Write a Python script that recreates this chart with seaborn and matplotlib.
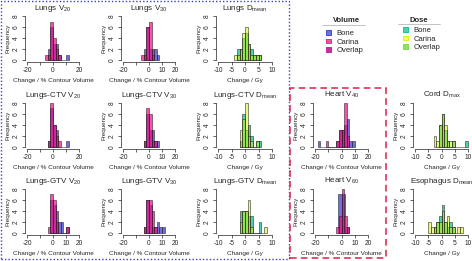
import numpy as np
import pandas as pd
import matplotlib
matplotlib.use("Agg")
import matplotlib.pyplot as plt
import seaborn as sns
from matplotlib.patches import Patch, Rectangle
from matplotlib.lines import Line2D

# histogram bins (left edge) and frequencies
lungs_v20 = {"bone": ([-4, -2, 0, 2, 4, 10], [2, 6, 3, 3, 1, 1]),
             "carina": ([-6, -4, -2, 0, 2, 4], [1, 1, 7, 4, 2, 1])}
lungs_v30 = {"bone": ([-4, -2, 0, 2, 4, 6], [2, 6, 2, 2, 2, 1]),
             "carina": ([-6, -4, -2, 0, 2], [1, 1, 6, 7, 1])}
lungs_dmean = {"bone": ([-3, -2, -1, 0, 1, 2, 3, 4, 5], [2, 2, 4, 5, 3, 2, 1, 1, 1]),
               "carina": ([-4, -3, -2, -1, 0, 1, 2, 3, 4, 5], [1, 1, 2, 5, 6, 3, 1, 1, 1, 1])}
ctv_v20 = {"bone": ([-4, -2, 0, 2, 10], [1, 7, 4, 3, 1]),
           "carina": ([-4, -2, 0, 2, 4], [1, 8, 4, 2, 1])}
ctv_v30 = {"bone": ([-4, -2, 0, 2, 4, 6], [1, 6, 3, 3, 1, 1]),
           "carina": ([-4, -2, 0, 2, 4], [1, 7, 6, 1, 1])}
ctv_dmean = {"bone": ([-2, -1, 0, 1, 2, 4, 5], [1, 6, 3, 4, 2, 1, 1]),
             "carina": ([-2, -1, 0, 1, 2, 4], [3, 5, 8, 2, 1, 1])}
gtv_v20 = {"bone": ([-2, 0, 2, 4, 6, 10], [6, 5, 4, 2, 2, 1]),
           "carina": ([-4, -2, 0, 2, 10], [1, 7, 6, 2, 1])}
gtv_v30 = {"bone": ([-4, -2, 0, 2, 4, 6, 8, 10], [1, 6, 5, 1, 1, 2, 1, 1]),
           "carina": ([-4, -2, 0, 2, 4], [1, 6, 6, 4, 1])}
gtv_dmean = {"bone": ([-2, -1, 0, 1, 2, 5], [4, 4, 4, 3, 3, 2]),
             "carina": ([-2, -1, 0, 1, 2, 7], [2, 4, 4, 6, 1, 1])}
heart_v40 = {"bone": ([-18, -4, -2, 0, 2, 4, 6, 8], [1, 1, 3, 3, 4, 5, 1, 1]),
             "carina": ([-12, -4, -2, 0, 2, 4], [1, 1, 3, 3, 8, 2])}
heart_v60 = {"bone": ([-3, 0, 3], [7, 7, 1]), "bone_w": 3,
             "carina": ([-4, -2, 0, 2, 4], [1, 3, 8, 3, 1])}
cord_dmax = {"bone": ([-1, 0, 1, 2, 4, 9], [4, 6, 3, 1, 1, 1]),
             "carina": ([-3, -2, -1, 0, 1, 2, 3, 4], [2, 1, 4, 6, 4, 1, 1, 1])}
eso_dmean = {"bone": ([-3, -2, -1, 0, 1, 2, 3, 4], [1, 2, 3, 5, 2, 1, 2, 1]),
             "carina": ([-5, -4, -3, -2, -1, 0, 1, 2, 3, 4, 6, 7], [2, 1, 1, 2, 2, 4, 2, 3, 1, 1, 1, 1])}

vol_ticks = [-20, -10, 0, 10, 20]
dose_ticks = [-10, -5, 0, 5, 10]

# title, kind, row, col, data, x tick labels
panels = [
    ("Lungs V$_{20}$", "vol", 0, 0, lungs_v20, ["-20", "", "0", "", "20"]),
    ("Lungs V$_{30}$", "vol", 0, 1, lungs_v30, ["-20", "", "0", "10", "20"]),
    ("Lungs D$_{mean}$", "dose", 0, 2, lungs_dmean, ["-10", "-5", "0", "5", "10"]),
    ("Lungs-CTV V$_{20}$", "vol", 1, 0, ctv_v20, ["-20", "", "0", "", "20"]),
    ("Lungs-CTV V$_{30}$", "vol", 1, 1, ctv_v30, ["-20", "", "0", "10", "20"]),
    ("Lungs-CTV D$_{mean}$", "dose", 1, 2, ctv_dmean, ["-10", "-5", "0", "5", "10"]),
    ("Lungs-GTV V$_{20}$", "vol", 2, 0, gtv_v20, ["-20", "", "0", "10", "20"]),
    ("Lungs-GTV V$_{30}$", "vol", 2, 1, gtv_v30, ["-20", "", "0", "10", "20"]),
    ("Lungs-GTV D$_{mean}$", "dose", 2, 2, gtv_dmean, ["-10", "-5", "0", "5", "10"]),
    ("Heart V$_{40}$", "vol", 1, 3, heart_v40, ["-20", "", "0", "10", "20"]),
    ("Heart V$_{60}$", "vol", 2, 3, heart_v60, ["-20", "", "0", "10", "20"]),
    ("Cord D$_{max}$", "dose", 1, 4, cord_dmax, ["-10", "-5", "0", "5", "10"]),
    ("Esophagus D$_{mean}$", "dose", 2, 4, eso_dmean, ["-10", "-5", "0", "5", "10"]),
]

colors = {
    "vol": {"bone": (0.2, 0.2, 0.8, 0.7), "carina": (0.95, 0.05, 0.5, 0.7)},
    "dose": {"bone": (0.0, 0.75, 0.55, 0.7), "carina": (0.85, 0.95, 0.0, 0.5)},
}

sns.set_style("ticks")
plt.rcParams["font.family"] = ["Liberation Sans", "DejaVu Sans"]
plt.rcParams["mathtext.default"] = "regular"

W, H = 472, 261
fig = plt.figure(figsize=(W / 100, H / 100), dpi=100)

# pixel positions of the axis ends (first/last x tick, 8 and 0 on y)
col_px = [(27, 79), (123, 175), (218, 272), (315, 368), (415, 468)]
row_px = [(16, 60), (103, 147), (189, 233)]


def draw_hist(ax, left, counts, width, face):
    left = np.array(left, float)
    df = pd.DataFrame({"value": left + width / 2, "n": counts})
    n0 = len(ax.patches)
    bins = np.arange(left.min(), left.max() + width * 1.5, width).tolist()
    sns.histplot(data=df, x="value", weights="n", bins=bins, ax=ax,
                 color=face[:3], edgecolor="black", linewidth=0.4)
    for p in ax.patches[n0:]:
        p.set_alpha(None)
        p.set_facecolor(face)
        p.set_edgecolor((0.1, 0.1, 0.1, 0.9))


for title, kind, r, c, d, xlabels in panels:
    lim = 20 if kind == "vol" else 10
    x0, x1 = col_px[c]
    y8, y0 = row_px[r]
    pxu = (x1 - x0) / (2 * lim)
    pyu = (y0 - y8) / 8
    left = (x0 - 0.08 * lim * pxu) / W
    width = (x1 - x0 + 0.16 * lim * pxu) / W
    bottom = 1 - (y0 + 0.32 * pyu) / H
    height = 8.64 * pyu / H
    ax = fig.add_axes([left, bottom, width, height])

    bw = 2 if kind == "vol" else 1
    draw_hist(ax, *d["bone"], d.get("bone_w", bw), colors[kind]["bone"])
    draw_hist(ax, *d["carina"], d.get("carina_w", bw), colors[kind]["carina"])

    ax.set_xlim(-lim * 1.08, lim * 1.08)
    ax.set_ylim(-0.32, 8.32)
    ax.set_yticks([0, 2, 4, 6, 8])
    ax.set_yticklabels(["0", "2", "4", "6", "8"], rotation=90, va="center")
    ax.set_xticks(vol_ticks if kind == "vol" else dose_ticks)
    ax.set_xticklabels(xlabels)
    sns.despine(ax=ax)
    ax.spines["left"].set_bounds(0, 8)
    ax.spines["bottom"].set_bounds(-lim, lim)
    for s in ("left", "bottom"):
        ax.spines[s].set_linewidth(0.5)
        ax.spines[s].set_color("#222222")
    ax.tick_params(length=2, width=0.5, labelsize=4.8, pad=1.5, color="#222222")
    ax.set_ylabel("Frequency", fontsize=4.5, labelpad=2)
    ax.set_xlabel("Change / % Contour Volume" if kind == "vol" else "Change / Gy",
                  fontsize=4.6, labelpad=3)
    ax.set_title(title, fontsize=5.8, pad=3)


# legends
def blend(c):
    a = c[3]
    return tuple(a * c[i] + (1 - a) for i in range(3))


def overlay(top, under):
    a = top[3]
    u = blend(under)
    return tuple(a * top[i] + (1 - a) * u[i] for i in range(3))


legend_spots = (("vol", "Volume", 326, 347, 30, 322, 365, 25),
                ("dose", "Dose", 403, 419, 27, 398, 440, 24))
for kind, name, lx, tx, ly, ux0, ux1, uy in legend_spots:
    cb, cc = colors[kind]["bone"], colors[kind]["carina"]
    handles = [Patch(facecolor=blend(cb), edgecolor=cb[:3], linewidth=0.6),
               Patch(facecolor=blend(cc), edgecolor=cc[:3], linewidth=0.6),
               Patch(facecolor=overlay(cc, cb), edgecolor=overlay(cc, (*cb[:3], 1.0)), linewidth=0.6)]
    fig.legend(handles, ["Bone", "Carina", "Overlap"],
               loc="upper left", bbox_to_anchor=(lx / W, 1 - ly / H),
               frameon=False, fontsize=5.5, handlelength=0.6, handleheight=0.6,
               handletextpad=0.8, labelspacing=0.2, borderpad=0, borderaxespad=0)
    fig.text(tx / W, 1 - 20 / H, name, ha="center", va="center",
             fontsize=5.5, fontweight="bold")
    fig.add_artist(Line2D([ux0 / W, ux1 / W], [1 - uy / H, 1 - uy / H], color="#aaaaaa", lw=0.5))

# group boxes
fig.add_artist(Rectangle((1 / W, 1 - 259 / H), 288 / W, 258 / H, fill=False,
                         edgecolor="#4040b0", linestyle=(0, (1, 1.5)), lw=1))
fig.add_artist(Rectangle((290 / W, 1 - 258 / H), 96 / W, 170 / H, fill=False,
                         edgecolor="#e0305a", linestyle=(0, (4, 2.5)), lw=1.2))

fig.savefig("out.png", dpi=100)
